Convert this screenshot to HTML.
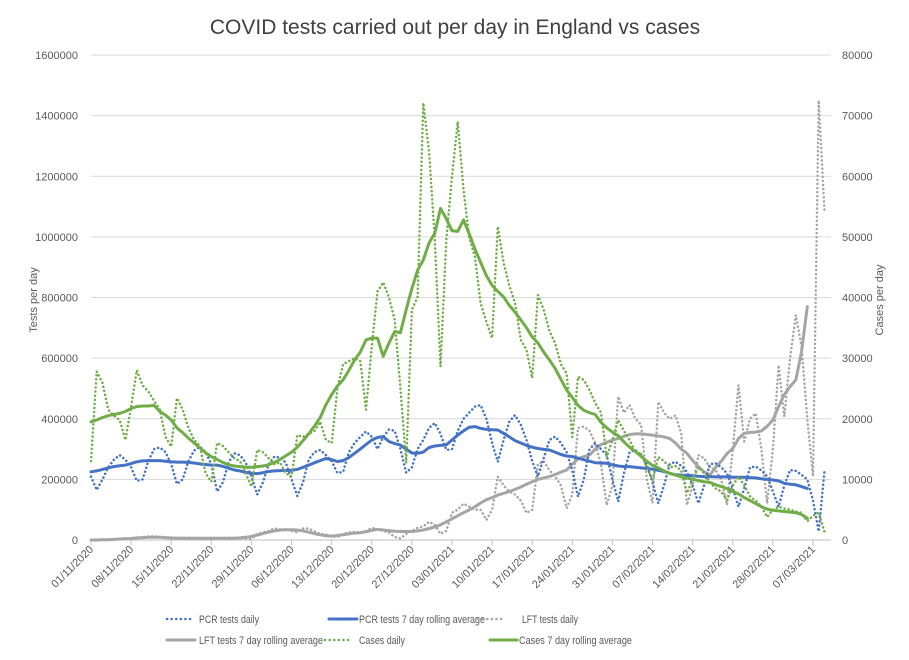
<!DOCTYPE html>
<html><head><meta charset="utf-8"><style>
html,body{margin:0;padding:0;background:#fff;}
svg{display:block;font-family:"Liberation Sans",Arial,sans-serif;}
</style></head><body>
<svg id="chart" width="909" height="660" viewBox="0 0 909 660" xmlns="http://www.w3.org/2000/svg">
<rect x="0" y="0" width="909" height="660" fill="#fff"/>
<text x="455" y="34" text-anchor="middle" font-size="21" fill="#404040">COVID tests carried out per day in England vs cases</text>
<text transform="translate(37,300) rotate(-90)" text-anchor="middle" font-size="11" fill="#595959">Tests per day</text>
<text transform="translate(883,300) rotate(-90)" text-anchor="middle" font-size="11" fill="#595959">Cases per day</text>
<g id="grid"></g><g id="series"></g><g id="axes"></g><g id="legend"></g>
</svg>
<script>
const dateLabels=["01/11/2020","08/11/2020","15/11/2020","22/11/2020","29/11/2020","06/12/2020","13/12/2020","20/12/2020","27/12/2020","03/01/2021","10/01/2021","17/01/2021","24/01/2021","31/01/2021","07/02/2021","14/02/2021","21/02/2021","28/02/2021","07/03/2021"];
const leftTicks=[0,200000,400000,600000,800000,1000000,1200000,1400000,1600000];
const rightTicks=[0,10000,20000,30000,40000,50000,60000,70000,80000];
const pcrDaily=[209,165,200,240,265,280,265,240,195,200,260,300,305,290,250,185,200,260,295,308,290,250,160,190,255,286,280,255,210,150,190,250,275,272,255,200,145,190,265,290,297,280,260,221,225,290,320,340,358,340,300,340,365,360,300,222,240,300,330,370,386,350,297,300,360,400,420,440,445,400,320,258,330,390,412,380,330,260,209,270,330,341,320,290,230,143,200,300,319,300,280,200,127,220,290,297,280,250,190,121,180,250,258,245,225,180,121,180,250,253,240,220,170,110,170,240,242,230,210,160,110,180,231,228,215,200,130,28,225];
const pcrAvg=[225,228,233,238,242,245,247,252,258,261,262,262,262,260,258,257,257,256,254,251,249,247,247,243,237,231,228,223,220,219,222,226,228,229,229,230,233,240,247,255,262,269,265,259,262,272,286,300,315,330,338,341,325,318,313,300,287,286,290,305,310,312,314,330,346,360,372,374,368,365,364,363,352,340,328,320,312,306,302,299,297,290,282,277,275,270,265,260,255,254,253,248,244,242,242,240,238,236,234,230,226,220,215,214,213,212,210,209,209,208,208,208,207,207,207,206,205,202,200,198,195,187,184,182,176,170];
const lftDaily=[0,0,1,2,3,5,6,6,4,10,12,12,10,8,4,8,8,7,7,6,4,3,6,7,7,7,6,5,4,20,25,30,38,35,35,30,25,38,38,28,20,18,12,10,20,25,26,25,30,40,35,30,25,10,5,20,30,40,45,60,50,20,30,90,100,120,110,100,100,66,100,209,180,160,150,130,89,100,250,260,230,210,180,105,150,370,374,360,320,250,115,180,473,420,445,400,380,200,122,456,420,400,411,352,115,180,280,270,240,230,200,115,300,511,325,400,418,300,121,300,577,407,600,742,640,400,210,1450,1090];
const lftAvg=[0,0,1,1,2,3,4,5,7,8,9,9,9,8,7,6,6,6,6,6,6,6,6,6,6,6,7,9,12,16,21,26,30,33,34,34,33,30,26,21,17,14,13,15,17,20,23,24,27,32,35,33,31,29,28,28,28,30,33,38,43,50,60,70,80,90,99,110,122,133,140,148,154,160,167,175,184,192,200,205,209,216,224,231,250,268,275,280,300,315,322,330,335,342,348,350,350,348,346,343,340,335,320,300,286,262,242,225,214,240,260,285,302,335,352,355,356,360,375,396,440,480,506,528,620,770];
const casesDaily=[13000,27800,25900,21500,20500,19800,16500,22000,28000,25500,24500,23000,21500,17000,15400,23400,21500,18500,16500,15500,11000,9600,16000,15500,14500,13500,13000,11000,8800,14850,14500,13500,12500,12800,11000,10450,17300,17000,17500,18000,19500,16500,16000,25000,29000,29500,30000,29500,21500,32000,41000,42500,40000,36300,25000,12700,38000,40100,72100,64000,49500,28600,49500,60000,69000,57750,50000,46700,39100,36000,33300,51700,45700,42000,39100,33000,31350,26700,40400,38000,34500,32500,29000,27500,17000,26900,26400,24750,22600,21000,13700,16500,19800,18000,16500,14500,14200,12000,9900,13700,13000,12000,12200,11500,7750,10000,12000,11000,9600,8500,8000,6600,9000,10450,9000,7200,6500,5500,3800,5000,5500,5200,5000,4700,4500,3100,4000,4500,1400];
const casesAvg=[19500,19800,20200,20500,20700,20900,21200,21700,22000,22100,22100,22200,21200,20600,19800,18500,17700,16800,16000,15200,14400,13750,13300,12800,12400,12200,12100,12000,12000,12100,12200,12400,12800,13300,13900,14500,15300,16400,17500,18800,20200,22300,24000,25400,26400,28000,29700,31000,33000,33300,33300,30300,32500,34400,34200,38000,41500,44500,46200,49000,50600,54700,53000,51000,50900,52800,50500,48000,45800,43600,42000,41000,40100,38700,37600,36300,35000,33500,32500,31000,29700,28300,26500,24750,23500,22200,21400,21000,20700,19400,18500,17800,17200,16200,15300,14600,13800,13000,12300,11900,11400,11000,10700,10400,10200,10000,9800,9600,9500,9100,8800,8500,8000,7600,7000,6500,6000,5500,5100,4900,4800,4700,4600,4500,4200,3600];

const NS="http://www.w3.org/2000/svg";
const X0=91, DX=5.73, YB=540, YT=55, XR=831;
function xs(i){return X0+i*DX;}
function yL(v){return YB-(v/1600000)*(YB-YT);}
function yR(v){return YB-(v/80000)*(YB-YT);}
function mk(tag,attrs,parent){const e=document.createElementNS(NS,tag);for(const k in attrs)e.setAttribute(k,attrs[k]);parent.appendChild(e);return e;}
const grid=document.getElementById('grid'),axes=document.getElementById('axes'),series=document.getElementById('series'),legend=document.getElementById('legend');
leftTicks.forEach((t,k)=>{
  const y=yL(t);
  const ln=mk('line',{x1:X0,x2:XR,y1:y,y2:y,stroke:k===0?'#bfbfbf':'#d9d9d9','stroke-width':1},grid);
  
  
  const tx=mk('text',{x:78,y:y+4,'text-anchor':'end','font-size':11,fill:'#595959'},axes);
  tx.textContent=String(t);
  
  
});
rightTicks.forEach(t=>{
  const tx=mk('text',{x:842,y:yR(t)+4,'text-anchor':'start','font-size':11,fill:'#595959'},axes);
  tx.textContent=String(t);
  
  
});
dateLabels.forEach((d,k)=>{
  const x=xs(k*7);
  const tk=mk('line',{x1:x,x2:x,y1:YB,y2:YB+5,stroke:'#bfbfbf'},axes);
  
  
  const tx=mk('text',{transform:`translate(${x+3},${YB+10}) rotate(-45)`,'text-anchor':'end','font-size':11,fill:'#595959'},axes);
  tx.textContent=d;
  
  
});
function line(arr,yf,scale,color,dotted,name){
  const pts=arr.map((v,i)=>xs(i).toFixed(1)+','+yf(v*scale).toFixed(1)).join(' ');
  const a={points:pts,fill:'none',stroke:color,'stroke-linejoin':'round'};
  if(dotted){a['stroke-width']=2.5;a['stroke-dasharray']='0.1 4';a['stroke-linecap']='round';}else{a['stroke-width']=3;a['stroke-linecap']='round';}
  const p=mk('polyline',a,series);
  
  
}
const BLUE='#4472c4',GRAY='#a5a5a5',GREEN='#70ad47';
line(lftDaily,yL,1000,GRAY,true,'lft-daily-line');
line(lftAvg,yL,1000,GRAY,false,'lft-avg-line');
line(pcrDaily,yL,1000,BLUE,true,'pcr-daily-line');
line(pcrAvg,yL,1000,BLUE,false,'pcr-avg-line');
line(casesDaily,yR,1,GREEN,true,'cases-daily-line');
line(casesAvg,yR,1,GREEN,false,'cases-avg-line');
const leg=[
 [167,193,619,'PCR tests daily',BLUE,true,199,60],
 [329,357,619,'PCR tests 7 day rolling average',BLUE,false,359,126],
 [478,505,619,'LFT tests daily',GRAY,true,522,56],
 [167,195,640,'LFT tests 7 day rolling average',GRAY,false,199,124],
 [325,352,640,'Cases daily',GREEN,true,359,46],
 [490,517,640,'Cases 7 day rolling average',GREEN,false,519,113]
];
leg.forEach(l=>{
  const g=mk('g',{},legend);
  
  
  const a={x1:l[0],x2:l[1],y1:l[2],y2:l[2],stroke:l[4],'stroke-linecap':'round'};
  if(l[5]){a['stroke-width']=2.5;a['stroke-dasharray']='0.1 4.5';}else a['stroke-width']=3;
  mk('line',a,g);
  const t=mk('text',{x:l[6],y:l[2]+4,'font-size':11,fill:'#595959',textLength:l[7],lengthAdjust:'spacingAndGlyphs'},g);
  t.textContent=l[3];
});
</script>
</body></html>
